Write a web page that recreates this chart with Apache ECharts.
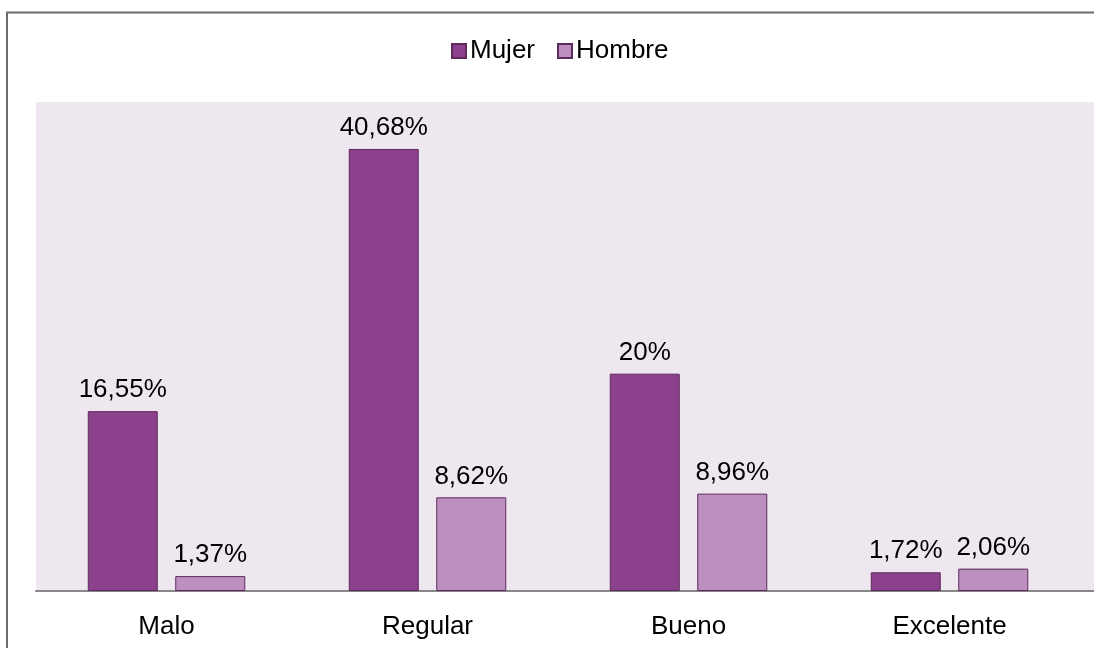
<!DOCTYPE html>
<html><head><meta charset="utf-8">
<script src="https://cdn.jsdelivr.net/npm/echarts@6/dist/echarts.min.js"></script>
<style>html,body{margin:0;padding:0;background:#fff}#c{width:1094px;height:648px}</style>
</head><body><div id="c"></div>
<script>
const categories = ['Malo', 'Regular', 'Bueno', 'Excelente'];
const mujer = [16.55, 40.68, 20, 1.72];
const hombre = [1.37, 8.62, 8.96, 2.06];
const seriesNames = ['Mujer', 'Hombre'];

const chart = echarts.init(document.getElementById('c'));
const fmt = p => String(p.value).replace('.', ',') + '%';
const font = 'Liberation Sans, Arial, sans-serif';
const fs = 26;
chart.setOption({
  animation: false,
  textStyle: { fontFamily: font },
  graphic: [
    { type: 'rect', z: -10, shape: { x: 36, y: 102, width: 1058, height: 489 }, style: { fill: '#EFE7EF' } },
    { type: 'line', z: 10, shape: { x1: 1078, y1: 591, x2: 1094, y2: 591 }, style: { stroke: '#888888', lineWidth: 2 } },
    { type: 'rect', z: 20, shape: { x: 7, y: 12.5, width: 1200, height: 800 }, style: { fill: 'none', stroke: '#6b6b6b', lineWidth: 2 } }
  ],
  legend: {
    data: seriesNames, top: 33, left: 446, icon: 'rect',
    itemWidth: 14, itemHeight: 14, itemGap: 22,
    textStyle: { fontSize: fs, color: '#000', fontFamily: font, padding: [0, 0, 0, -1] }
  },
  grid: { left: 36, right: 14, top: 102, bottom: 57, containLabel: false },
  xAxis: {
    type: 'category', data: categories,
    axisLine: { lineStyle: { color: '#888888', width: 2 } },
    axisTick: { show: false },
    axisLabel: { fontSize: fs, color: '#000', margin: 23, fontFamily: font }
  },
  yAxis: { type: 'value', min: 0, max: 45, show: false, splitLine: { show: false } },
  series: [
    { name: 'Mujer', type: 'bar', data: mujer, barWidth: 70, barGap: '25%',
      itemStyle: { color: '#8C418C', borderColor: '#5C2A5C', borderWidth: 1 },
      label: { show: true, position: 'top', distance: 8, fontSize: fs, color: '#000', formatter: fmt, fontFamily: font } },
    { name: 'Hombre', type: 'bar', data: hombre, barWidth: 70,
      itemStyle: { color: '#BD8FBF', borderColor: '#5C2A5C', borderWidth: 1 },
      label: { show: true, position: 'top', distance: 8, fontSize: fs, color: '#000', formatter: fmt, fontFamily: font } }
  ]
});
</script></body></html>
